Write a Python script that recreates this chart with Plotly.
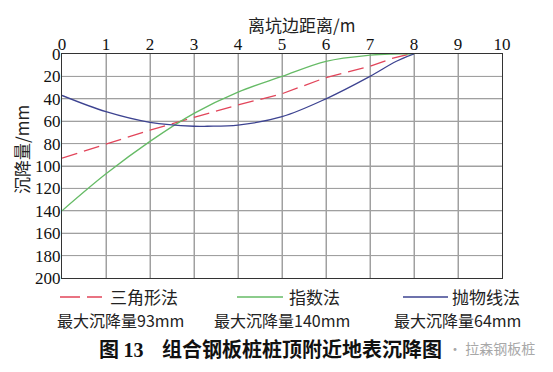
import plotly.graph_objects as go

# data
x_tri = [0, 1, 2, 3, 4, 5, 6, 7, 7.5, 7.9]
y_tri = [93, 80.5, 68, 56.5, 45.5, 35.5, 21, 11, 4, 0]
x_exp = [0, 1, 2, 3, 4, 5, 6, 7, 7.5, 8]
y_exp = [140, 107, 78, 53, 34, 20, 6.5, 1, 0, 0]
x_par = [0, 1, 2, 3, 3.3, 4, 5, 6, 7, 7.6, 8]
y_par = [37, 51.5, 61, 64.5, 64.5, 63.5, 56, 40, 20, 6.5, 0]
x_ticks = list(range(0, 11))
y_ticks = list(range(0, 201, 20))
names = ["三角形法", "指数法", "抛物线法"]
subs = ["最大沉降量93mm", "最大沉降量140mm", "最大沉降量64mm"]
colors = ["#e2455a", "#66bb66", "#3d4391"]

serif = "Liberation Serif, Times New Roman, serif"
cjk = "Noto Sans CJK SC"

OFF = 8  # page body margin
W, H = 553 - OFF, 372 - OFF
# plot area in screenshot pixels: x 62..502, y 54..278
L, T = 62 - OFF, 54 - OFF
PW, PH = 440, 224
R, B = W - L - PW, H - T - PH

def px(x):
    return (x - OFF - L) / PW

def py(y):
    return (T + PH - (y - OFF)) / PH

fig = go.Figure()
fig.add_trace(go.Scatter(x=x_tri, y=y_tri, mode="lines", name=names[0],
                         line=dict(color=colors[0], width=1.3, dash="16px,7px")))
fig.add_trace(go.Scatter(x=x_exp, y=y_exp, mode="lines", name=names[1], line_shape="spline",
                         line=dict(color=colors[1], width=1.3)))
fig.add_trace(go.Scatter(x=x_par, y=y_par, mode="lines", name=names[2], line_shape="spline",
                         line=dict(color=colors[2], width=1.3)))

axis_common = dict(showgrid=True, gridcolor="rgb(160,160,160)", gridwidth=1, griddash="solid",
                   showline=True, linecolor="#333", linewidth=1.2, mirror=True,
                   zeroline=False, ticks="", automargin=False, tickmode="array",
                   tickfont=dict(family=serif, size=17, color="#111"))
fig.update_layout(
    width=W, height=H,
    margin=dict(l=L, r=R, t=T, b=B, pad=0),
    paper_bgcolor="white", plot_bgcolor="white",
    showlegend=False,
    xaxis=dict(range=[0, 10], side="top", tickvals=x_ticks, ticktext=[str(v) for v in x_ticks],
               ticklabelstandoff=-4, **axis_common),
    yaxis=dict(range=[200, 0], tickvals=y_ticks, ticktext=[str(v) for v in y_ticks],
               ticklabelstandoff=-3, **axis_common),
)

shapes = []
for v in x_ticks[1:-1]:
    shapes.append(dict(type="line", xref="x", yref="paper", x0=v, x1=v, y0=0, y1=1, layer="below",
                       line=dict(color="rgb(160,160,160)", width=1)))
for v in y_ticks[1:-1]:
    shapes.append(dict(type="line", xref="paper", yref="y", x0=0, x1=1, y0=v, y1=v, layer="below",
                       line=dict(color="rgb(160,160,160)", width=1)))

ann = []
ann.append(dict(x=301, y=25, text="离坑边距离/m", font=dict(family=cjk, size=17, color="#222")))
ann.append(dict(x=21, y=150, text="沉降量/mm", textangle=-90,
                font=dict(family=cjk, size=17, color="#222")))
leg_lines = [(60, 102), (237, 283), (403, 448)]
leg_text_x = [108, 287, 450]
sub_x = [55, 212, 392]
for i in range(3):
    x0, x1 = leg_lines[i]
    shapes.append(dict(type="line", xref="paper", yref="paper", x0=px(x0), x1=px(x1),
                       y0=py(297), y1=py(297),
                       line=dict(color=colors[i], width=1.3, dash="20px,7px" if i == 0 else "solid")))
    ann.append(dict(x=leg_text_x[i], y=296, text=names[i], xanchor="left",
                    font=dict(family=cjk, size=17, color="#222")))
    ann.append(dict(x=sub_x[i], y=320, text=subs[i], xanchor="left",
                    font=dict(family=cjk, size=16, color="#222")))
ann.append(dict(x=97, y=348,
                text="<b>图 <span style='font-family:Liberation Serif'>13</span></b>",
                xanchor="left", font=dict(family=cjk, size=20, color="#111")))
ann.append(dict(x=160, y=348, text="<b>组合钢板桩桩顶附近地表沉降图</b>", xanchor="left",
                font=dict(family=cjk, size=20, color="#111")))
ann.append(dict(x=446, y=348, text="· 拉森钢板桩", xanchor="left",
                font=dict(family=cjk, size=14, color="#a8a8a8")))

for a in ann:
    a["xref"] = "paper"; a["yref"] = "paper"; a["showarrow"] = False
    a["x"] = px(a["x"]); a["y"] = py(a["y"])
    a.setdefault("yanchor", "middle")
    a.setdefault("xanchor", "center")
fig.update_layout(annotations=ann, shapes=shapes)
fig.write_html("out.html")
